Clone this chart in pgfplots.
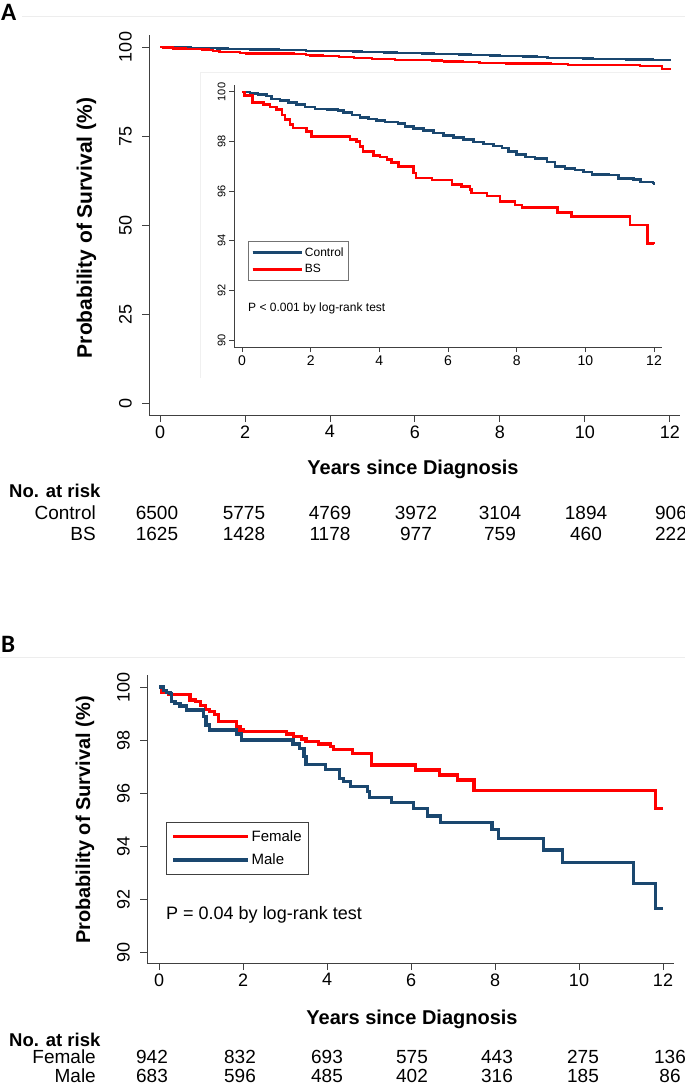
\documentclass[border=0pt]{standalone}
\usepackage{fontspec}
\setmainfont{Liberation Sans}
\newfontfamily\panelfont{Carlito}
\usepackage{pgfplots}
\usepackage{pgfplotstable}
\pgfplotsset{compat=1.18}
\definecolor{kmblue}{RGB}{26,71,111}
\definecolor{kmred}{RGB}{255,0,0}
\newcommand{\fs}[1]{\fontsize{#1bp}{#1bp}\selectfont}

\pgfplotstableread{
t s
0 100
0.23 99.93
0.47 99.89
0.72 99.83
0.86 99.72
1.10 99.65
1.35 99.58
1.59 99.49
1.83 99.39
2.13 99.31
2.47 99.29
2.80 99.26
2.95 99.18
3.20 99.08
3.44 98.98
3.68 98.91
3.92 98.84
4.17 98.78
4.55 98.72
4.75 98.61
5.00 98.52
5.28 98.44
5.58 98.34
5.87 98.25
6.16 98.17
6.45 98.08
6.74 97.99
7.03 97.91
7.32 97.83
7.57 97.74
7.76 97.60
8.00 97.47
8.25 97.38
8.54 97.31
8.88 97.17
9.12 97.00
9.41 96.92
9.70 96.85
9.95 96.78
10.19 96.68
10.67 96.65
10.97 96.51
11.40 96.47
11.60 96.38
11.97 96.34
12.00 96.26
}\ctrl

\pgfplotstableread{
t s
0 100
0.08 99.85
0.30 99.58
0.62 99.50
0.82 99.40
1.00 99.30
1.16 99.08
1.25 98.88
1.40 98.68
1.48 98.55
1.88 98.40
2.03 98.20
3.15 98.08
3.34 98.00
3.44 97.80
3.53 97.60
3.83 97.43
4.02 97.38
4.22 97.27
4.36 97.16
4.56 97.00
4.99 96.73
5.07 96.53
5.53 96.46
6.11 96.26
6.40 96.19
6.64 96.06
6.69 95.92
7.13 95.81
7.52 95.59
7.95 95.45
8.15 95.34
9.19 95.14
9.60 94.98
11.30 94.64
11.81 93.90
12.00 93.86
}\bs

\pgfplotstableread{
t s
0 100
0.06 99.80
0.22 99.71
0.74 99.51
0.86 99.45
0.98 99.30
1.10 99.16
1.21 99.07
1.33 98.97
1.41 98.69
1.85 98.50
1.93 98.38
2.01 98.31
3.04 98.23
3.20 98.13
3.40 98.04
3.50 97.94
3.80 97.85
4.08 97.75
4.15 97.65
4.60 97.50
5.05 97.06
6.11 96.87
6.68 96.68
7.10 96.49
7.50 96.08
11.82 95.42
12.00 95.42
}\female

\pgfplotstableread{
t s
0 100
0.10 99.86
0.18 99.80
0.26 99.76
0.29 99.45
0.38 99.38
0.50 99.28
0.66 99.13
1.06 98.88
1.12 98.57
1.21 98.38
1.85 98.23
1.97 98.00
3.19 97.85
3.35 97.69
3.45 97.37
3.50 97.09
3.97 96.89
4.29 96.55
4.39 96.43
4.55 96.26
4.96 96.05
5.01 95.84
5.54 95.65
6.06 95.42
6.40 95.13
6.71 94.88
7.93 94.63
8.09 94.29
9.16 93.85
9.61 93.38
11.30 92.59
11.82 91.65
12.00 91.65
}\male

\pgfplotsset{km/.style={
  scale only axis,
  axis x line*=bottom, axis y line*=left,
  axis line style={black!75, line width=0.9bp},
  every tick/.style={black!75, line width=0.9bp},
  tick align=outside,
  /pgf/number format/assume math mode=true,
  xtick={0,2,...,12},
  yticklabel style={rotate=90, anchor=south},
  xticklabel style={anchor=north},
}}

\begin{document}
\begin{tikzpicture}
\useasboundingbox (0bp,0bp) rectangle (685bp,-1084bp);

% ---------- Panel A ----------
\node[anchor=base west, inner sep=0, font=\panelfont\bfseries\fs{25}] at (1bp,-20bp) {A};
\draw[black!7, line width=0.8bp] (22bp,-16bp) -- (685bp,-16bp);

\begin{axis}[km, at={(149bp,-415bp)}, anchor=south west,
  width=531bp, height=380bp,
  xmin=-0.26, xmax=12.24, ymin=-3.37, ymax=103.37,
  ytick={0,25,...,100},
  major tick length=7bp,
  ticklabel style={font=\fs{18}},
  yticklabel style={inner ysep=10bp},
]
\addplot[const plot, kmblue, line width=2.2bp] table[x=t,y=s]{\ctrl};
\addplot[const plot, kmred, line width=2.2bp] table[x=t,y=s]{\bs};
\end{axis}

\fill[white] (200bp,-72bp) rectangle (670bp,-378bp);
\draw[black!6, line width=0.6bp] (200bp,-378bp) -- (200bp,-72bp) -- (670bp,-72bp);

\begin{axis}[km, at={(234bp,-347bp)}, anchor=south west,
  width=428bp, height=262bp,
  xmin=-0.233, xmax=12.233, ymin=89.72, ymax=100.28,
  ytick={90,92,...,100},
  major tick length=5bp,
  xticklabel style={font=\fs{14}},
  yticklabel style={font=\fs{11}},
  legend style={at={(0.0327,0.4046)}, anchor=north west, draw=black!55,
    line width=0.9bp, font=\fs{12}, inner xsep=3bp, inner ysep=4bp,
    row sep=3bp, cells={anchor=west}},
  legend image code/.code={\draw[#1] (0bp,0bp) -- (45bp,0bp); \path (0bp,0bp) -- (49bp,0bp);},
]
\addplot[const plot, kmblue, line width=2.5bp] table[x=t,y=s]{\ctrl};
\addlegendentry{Control}
\addplot[const plot, kmred, line width=2.5bp] table[x=t,y=s]{\bs};
\addlegendentry{BS}
\end{axis}
\node[anchor=base west, inner sep=0, font=\fs{12}] at (248bp,-311.5bp) {P < 0.001 by log-rank test};

\node[rotate=90, font=\bfseries\fs{21}] at (86.5bp,-228bp) {Probability of Survival (\%)};
\node[anchor=base, inner sep=0, font=\bfseries\fs{20}] at (413bp,-474bp) {Years since Diagnosis};
\node[anchor=base west, inner sep=0, font=\bfseries\fs{18.5}] at (9bp,-497bp) {No. at risk};
\node[anchor=base east, inner sep=0, font=\fs{19}] at (96bp,-519bp) {Control};
\node[anchor=base east, inner sep=0, font=\fs{19}] at (96bp,-540bp) {BS};
\foreach \x/\a/\b in {157/6500/1625, 244/5775/1428, 330/4769/1178, 416/3972/977, 500/3104/759, 586/1894/460, 671/906/222}{
  \node[anchor=base, inner sep=0, font=\fs{19}] at (\x bp,-519bp) {\a};
  \node[anchor=base, inner sep=0, font=\fs{19}] at (\x bp,-540bp) {\b};
}

% ---------- Panel B ----------
\node[anchor=base west, inner sep=0, font=\panelfont\bfseries\fs{25}] at (1bp,-652bp) {B};
\draw[black!7, line width=0.8bp] (0bp,-657bp) -- (685bp,-657bp);

\begin{axis}[km, at={(147bp,-963bp)}, anchor=south west,
  width=527bp, height=288bp,
  xmin=-0.286, xmax=12.262, ymin=89.585, ymax=100.453,
  ytick={90,92,...,100},
  major tick length=7bp,
  ticklabel style={font=\fs{18}},
  yticklabel style={inner ysep=10bp},
  legend style={at={(0.036,0.4896)}, anchor=north west, draw=black!75,
    line width=0.9bp, font=\fs{15}, inner xsep=5bp, inner ysep=6bp,
    row sep=7bp, cells={anchor=west}},
  legend image code/.code={\draw[#1] (0bp,0bp) -- (67bp,0bp); \path (0bp,0bp) -- (75bp,0bp);},
]
\addplot[const plot, kmred, line width=3.2bp] table[x=t,y=s]{\female};
\addlegendentry{Female}
\addplot[const plot, kmblue, line width=3.2bp] table[x=t,y=s]{\male};
\addlegendentry{Male}
\end{axis}
\node[anchor=base west, inner sep=0, font=\fs{18}] at (166bp,-919.5bp) {P = 0.04 by log-rank test};

\node[rotate=90, font=\bfseries\fs{20}] at (85bp,-820bp) {Probability of Survival (\%)};
\node[anchor=base, inner sep=0, font=\bfseries\fs{20}] at (412bp,-1024bp) {Years since Diagnosis};
\node[anchor=base west, inner sep=0, font=\bfseries\fs{18.5}] at (9bp,-1046bp) {No. at risk};
\node[anchor=base east, inner sep=0, font=\fs{19}] at (96bp,-1063bp) {Female};
\node[anchor=base east, inner sep=0, font=\fs{19}] at (96bp,-1082bp) {Male};
\foreach \x/\a/\b in {152/942/683, 240/832/596, 327/693/485, 412/575/402, 497/443/316, 583/275/185, 670/136/86}{
  \node[anchor=base, inner sep=0, font=\fs{19}] at (\x bp,-1063bp) {\a};
  \node[anchor=base, inner sep=0, font=\fs{19}] at (\x bp,-1082bp) {\b};
}
\end{tikzpicture}
\end{document}
